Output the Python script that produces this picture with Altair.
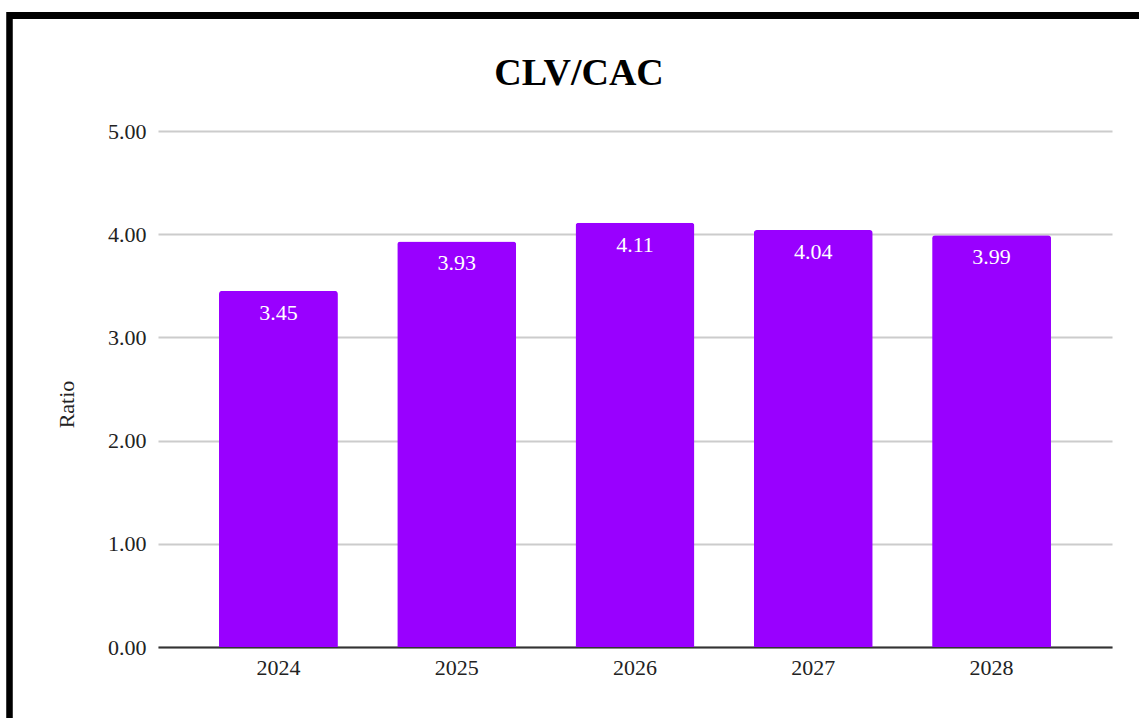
import altair as alt
import pandas as pd

# CLV/CAC ratio per year
years = ["2024", "2025", "2026", "2027", "2028"]
ratios = [3.45, 3.93, 4.11, 4.04, 3.99]
chart_title = "CLV/CAC"

df = pd.DataFrame({"year": years, "ratio": ratios})

FONT = "Liberation Serif"
PURPLE = "#9900FF"

x_enc = alt.X(
    "year:N",
    sort=years,
    title=None,
    scale=alt.Scale(paddingInner=0.333, paddingOuter=0.342),
    axis=alt.Axis(
        labelAngle=0,
        labelFont=FONT,
        labelFontSize=22,
        labelColor="#222222",
        labelPadding=10,
        ticks=False,
        domainColor="#333333",
        domainWidth=2,
        grid=False,
    ),
)
y_enc = alt.Y(
    "ratio:Q",
    title="Ratio",
    scale=alt.Scale(domain=[0, 5], nice=False),
    axis=alt.Axis(
        values=[0, 1, 2, 3, 4, 5],
        format=".2f",
        labelFont=FONT,
        labelFontSize=22,
        labelColor="#222222",
        labelPadding=12,
        ticks=False,
        domain=False,
        gridColor="#cccccc",
        gridWidth=2,
        titleFont=FONT,
        titleFontSize=22,
        titleFontWeight="normal",
        titleColor="#222222",
        titleX=-85,
        titleY=273,
        titleBaseline="alphabetic",
        titleAngle=-90,
    ),
)

bars = alt.Chart(df).mark_bar(
    color=PURPLE, cornerRadiusTopLeft=3, cornerRadiusTopRight=3
).encode(x=x_enc, y=y_enc)

labels = alt.Chart(df).mark_text(
    font=FONT, fontSize=22, color="white", baseline="top", dy=12
).encode(
    x=alt.X("year:N", sort=years),
    y=alt.Y("ratio:Q"),
    text=alt.Text("ratio:Q", format=".2f"),
)

# chart heading, drawn above the plot area
heading = alt.Chart(pd.DataFrame({"t": [chart_title]})).mark_text(
    font=FONT, fontSize=38, fontWeight="bold", color="black",
    align="center", baseline="alphabetic", clip=False,
).encode(x=alt.value(421), y=alt.value(-46), text="t:N")

# frame edges (top and left) around the chart
frame_top = alt.Chart(df).mark_rule(color="black", strokeWidth=7, clip=False).encode(
    x=alt.value(-151), x2=alt.value(990), y=alt.value(-115.5)
)
frame_left = alt.Chart(df).mark_rule(color="black", strokeWidth=5.5, clip=False).encode(
    x=alt.value(-148.5), y=alt.value(-119), y2=alt.value(600)
)

chart = (
    alt.layer(bars, labels, heading, frame_top, frame_left)
    .properties(
        width=954,
        height=516,
        autosize=alt.AutoSizeParams(type="none"),
        padding={"left": 158, "top": 131, "right": 27, "bottom": 71},
        background="white",
    )
    .configure_view(stroke=None)
)

chart.save("out.html", embed_options={"renderer": "svg", "actions": False})
